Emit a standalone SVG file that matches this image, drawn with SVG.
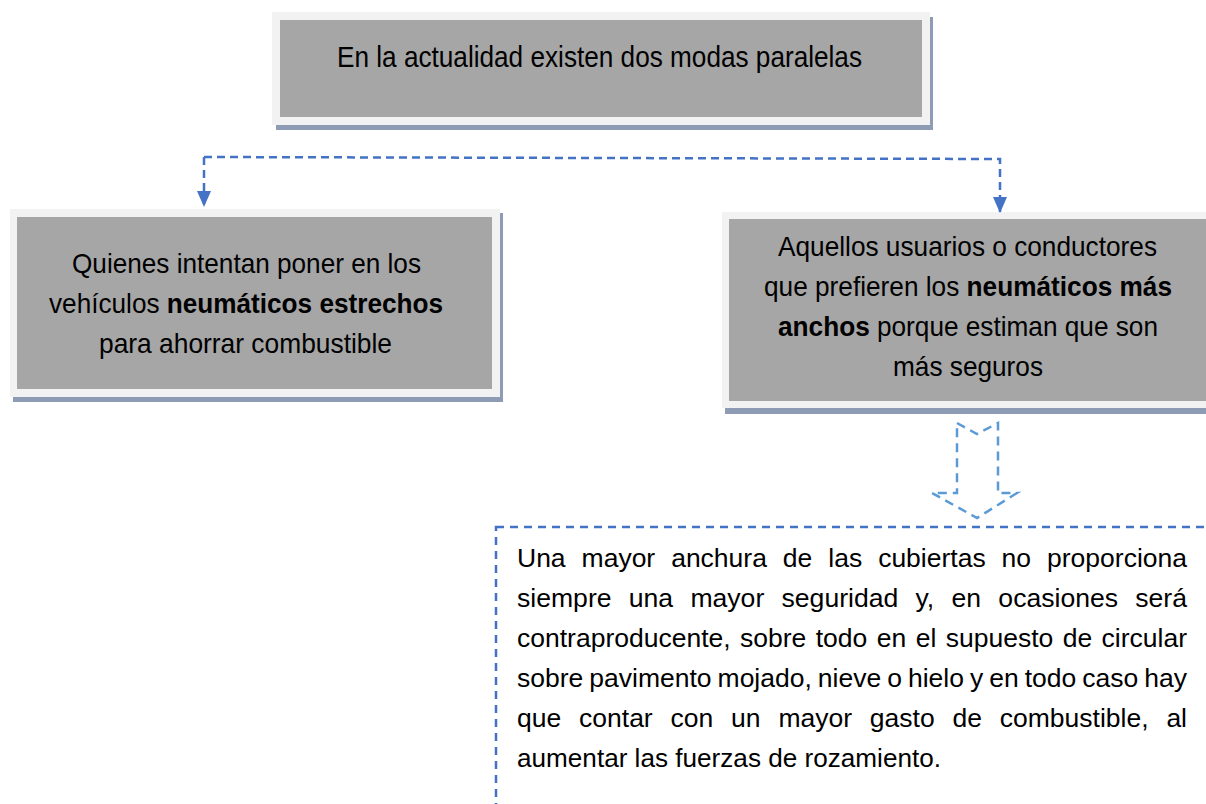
<svg xmlns="http://www.w3.org/2000/svg" width="1206" height="804" viewBox="0 0 1206 804">
<style>
.shadow{fill:#8e9bb5}
.frame{fill:#f2f2f2}
.body{fill:#a6a6a6}
.t{font-family:"Liberation Sans",Arial,sans-serif;font-size:28px;fill:#000}
.p{font-size:26.5px}
.b{font-weight:bold}
.conn{fill:none;stroke:#4472c4;stroke-width:2.5;stroke-dasharray:8,5}
.block{fill:none;stroke:#5b9bd5;stroke-width:2.5;stroke-dasharray:9,6}
</style>
<defs>
<marker id="ah" markerUnits="userSpaceOnUse" markerWidth="16" markerHeight="14" refX="15" refY="7" orient="auto" viewBox="0 0 16 14">
<path d="M0,0 L16,7 L0,14 Z" fill="#4472c4"/>
</marker>
</defs>
<rect width="1206" height="804" fill="#fff"/>

<g id="top">
<rect class="shadow" x="276" y="17" width="657" height="113"/>
<rect class="frame" x="272" y="12" width="658" height="113"/>
<rect class="body" x="280" y="20" width="642" height="97"/>
<text class="t" x="337" y="67" style="font-size:30px" textLength="525" lengthAdjust="spacingAndGlyphs">En la actualidad existen dos modas paralelas</text>
</g>

<g id="left">
<rect class="shadow" x="13" y="213" width="490" height="189"/>
<rect class="frame" x="10" y="209" width="490" height="188"/>
<rect class="body" x="17" y="217" width="475" height="172"/>
<text class="t" x="72" y="273" textLength="349" lengthAdjust="spacingAndGlyphs">Quienes intentan poner en los</text>
<text class="t" x="49" y="313" textLength="394" lengthAdjust="spacingAndGlyphs">vehículos <tspan class="b">neumáticos estrechos</tspan></text>
<text class="t" x="99" y="353" textLength="293" lengthAdjust="spacingAndGlyphs">para ahorrar combustible</text>
</g>

<g id="right">
<rect class="shadow" x="725" y="216" width="490" height="198"/>
<rect class="frame" x="722" y="212" width="490" height="196"/>
<rect class="body" x="729" y="219" width="490" height="182"/>
<text class="t" x="778" y="256" textLength="379" lengthAdjust="spacingAndGlyphs">Aquellos usuarios o conductores</text>
<text class="t" x="764" y="296" textLength="408" lengthAdjust="spacingAndGlyphs">que prefieren los <tspan class="b">neumáticos más</tspan></text>
<text class="t" x="778" y="336" textLength="380" lengthAdjust="spacingAndGlyphs"><tspan class="b">anchos</tspan> porque estiman que son</text>
<text class="t" x="893" y="376" textLength="150" lengthAdjust="spacingAndGlyphs">más seguros</text>
</g>

<g id="bottom">
<rect x="496" y="527" width="760" height="320" fill="none" stroke="#4472c4" stroke-width="2.5" stroke-dasharray="8,6"/>
<text class="t p" x="517" y="567" word-spacing="8.6" textLength="670" lengthAdjust="spacingAndGlyphs">Una mayor anchura de las cubiertas no proporciona</text>
<text class="t p" x="517" y="607" word-spacing="9.87" textLength="670" lengthAdjust="spacingAndGlyphs">siempre una mayor seguridad y, en ocasiones será</text>
<text class="t p" x="517" y="647" word-spacing="2.07" textLength="670" lengthAdjust="spacingAndGlyphs">contraproducente, sobre todo en el supuesto de circular</text>
<text class="t p" x="517" y="687" word-spacing="-1.35" textLength="670" lengthAdjust="spacingAndGlyphs">sobre pavimento mojado, nieve o hielo y en todo caso hay</text>
<text class="t p" x="517" y="727" word-spacing="10.47" textLength="670" lengthAdjust="spacingAndGlyphs">que contar con un mayor gasto de combustible, al</text>
<text class="t p" x="517" y="767" textLength="424" lengthAdjust="spacingAndGlyphs">aumentar las fuerzas de rozamiento.</text>
</g>

<g id="connectors">
<path class="conn" d="M204,157 L1000,159 L1000,212" marker-end="url(#ah)"/>
<path class="conn" d="M204,157 L204,206" marker-end="url(#ah)"/>
<path class="block" d="M957,423 L977,434 L998,423 L998,493 L1017,493 L977,518 L932,493 L957,493 Z"/>
</g>
</svg>
